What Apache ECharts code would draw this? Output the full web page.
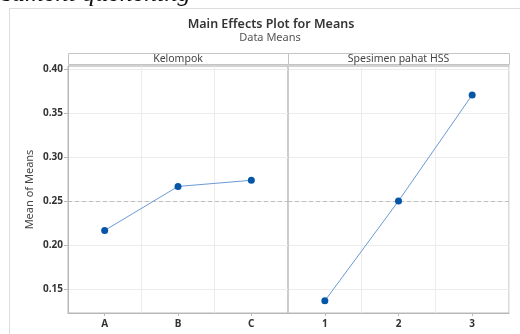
<!DOCTYPE html>
<html>
<head>
<meta charset="utf-8">
<script src="https://cdn.jsdelivr.net/npm/echarts@6/dist/echarts.min.js"></script>
<style>
  html, body { margin: 0; padding: 0; background: #fff; }
  #chart { width: 520px; height: 334px; }
</style>
</head>
<body>
<div id="chart"></div>
<script>
// Factor levels and the mean response at each level
const kelompokLevels = ['A', 'B', 'C'];
const kelompokMeans = [0.2165, 0.2665, 0.2735];
const spesimenLevels = ['1', '2', '3'];
const spesimenMeans = [0.1365, 0.2500, 0.3705];
const panelTitles = ['Kelompok', 'Spesimen pahat HSS'];
const yTicks = [0.15, 0.20, 0.25, 0.30, 0.35, 0.40];

// Grand mean drawn as the dashed reference line
const allMeans = kelompokMeans.concat(spesimenMeans);
const grandMean = allMeans.reduce((s, v) => s + v, 0) / allMeans.length;

const FONT = '"Noto Sans", "Open Sans", sans-serif';
const Y_MIN = 0.1227, Y_MAX = 0.4034;

const chart = echarts.init(document.getElementById('chart'), null, { renderer: 'canvas' });

function xAxisFor(idx, levels) {
  return {
    type: 'category', gridIndex: idx, data: levels, boundaryGap: true,
    axisLine: { show: true, lineStyle: { color: '#b8b8b8', width: 1 } },
    axisTick: { show: true, alignWithLabel: true, length: 3, lineStyle: { color: '#b8b8b8' } },
    axisLabel: { color: '#333', fontFamily: FONT, fontSize: 10, fontWeight: 'bold', margin: 6 },
    splitLine: { show: true, lineStyle: { color: '#ececec', width: 1 } }
  };
}

function yAxisFor(idx, showLabels) {
  return {
    type: 'value', gridIndex: idx, min: Y_MIN, max: Y_MAX, splitNumber: 5,
    name: showLabels ? 'Mean of Means' : '',
    nameLocation: 'middle', nameGap: 33,
    nameTextStyle: { color: '#444', fontFamily: FONT, fontSize: 11 },
    axisLine: { show: true, lineStyle: { color: showLabels ? '#b8b8b8' : '#cdcdcd', width: 1 } },
    axisTick: { show: showLabels, length: 4, lineStyle: { color: '#b8b8b8' },
                customValues: yTicks },
    axisLabel: {
      show: showLabels, color: '#333', fontFamily: FONT, fontSize: 10, fontWeight: 'bold',
      margin: 5, customValues: yTicks, formatter: v => v.toFixed(2)
    },
    splitLine: { show: true, lineStyle: { color: '#ececec', width: 1 } }
  };
}

function seriesFor(idx, values) {
  return {
    type: 'line', xAxisIndex: idx, yAxisIndex: idx, data: values,
    symbol: 'circle', symbolSize: 7,
    itemStyle: { color: '#0656a8' },
    lineStyle: { color: '#6b9ad6', width: 1 },
    z: 5,
    markLine: {
      silent: true, symbol: 'none', label: { show: false },
      lineStyle: { color: '#bdbdbd', type: [4, 3], width: 1 },
      data: [{ yAxis: grandMean }]
    }
  };
}

const stripTop = 53, stripBottom = 64, left = 68, mid = 288, right = 509;

const option = {
  backgroundColor: '#fff',
  animation: false,
  grid: [
    { left: left, right: 520 - mid, top: 66, bottom: 21, show: true, borderColor: '#b8b8b8', borderWidth: 1 },
    { left: mid, right: 520 - right, top: 66, bottom: 21, show: true, borderColor: '#b8b8b8', borderWidth: 1 }
  ],
  xAxis: [xAxisFor(0, kelompokLevels), xAxisFor(1, spesimenLevels)],
  yAxis: [yAxisFor(0, true), yAxisFor(1, false)],
  series: [seriesFor(0, kelompokMeans), seriesFor(1, spesimenMeans)],
  graphic: [
    // page fragment above the figure
    { type: 'text', left: 2, top: -19, z: 1,
      style: { text: 'sament quenching', font: 'italic 26px "Liberation Serif", serif', fill: '#111' } },
    // figure frame
    { type: 'line', shape: { x1: 9.5, y1: 8.5, x2: 9.5, y2: 334 }, style: { stroke: '#dcdcdc', lineWidth: 1 } },
    { type: 'line', shape: { x1: 9.5, y1: 8.5, x2: 520, y2: 8.5 }, style: { stroke: '#dcdcdc', lineWidth: 1 } },
    // titles
    { type: 'text', x: 271, y: 24, style: { text: 'Main Effects Plot for Means', align: 'center', verticalAlign: 'middle',
      font: '600 12.5px ' + FONT, fill: '#333' } },
    { type: 'text', x: 270, y: 38, style: { text: 'Data Means', align: 'center', verticalAlign: 'middle',
      font: '11px ' + FONT, fill: '#555' } },
    // panel header strips
    { type: 'rect', shape: { x: left + 0.5, y: stripTop + 0.5, width: mid - left, height: stripBottom - stripTop },
      style: { fill: '#fff', stroke: '#c4c4c4', lineWidth: 1 } },
    { type: 'rect', shape: { x: mid + 0.5, y: stripTop + 0.5, width: right - mid, height: stripBottom - stripTop },
      style: { fill: '#fff', stroke: '#c4c4c4', lineWidth: 1 } },
    { type: 'line', shape: { x1: left, y1: 66, x2: right + 1, y2: 66 }, style: { stroke: '#c8c8c8', lineWidth: 1 } },
    { type: 'text', x: (left + mid) / 2, y: 59, style: { text: panelTitles[0], align: 'center', verticalAlign: 'middle',
      font: '10.5px ' + FONT, fill: '#444' } },
    { type: 'text', x: (mid + right) / 2, y: 59, style: { text: panelTitles[1], align: 'center', verticalAlign: 'middle',
      font: '10.5px ' + FONT, fill: '#444' } }
  ]
};

chart.setOption(option);
</script>
</body>
</html>
